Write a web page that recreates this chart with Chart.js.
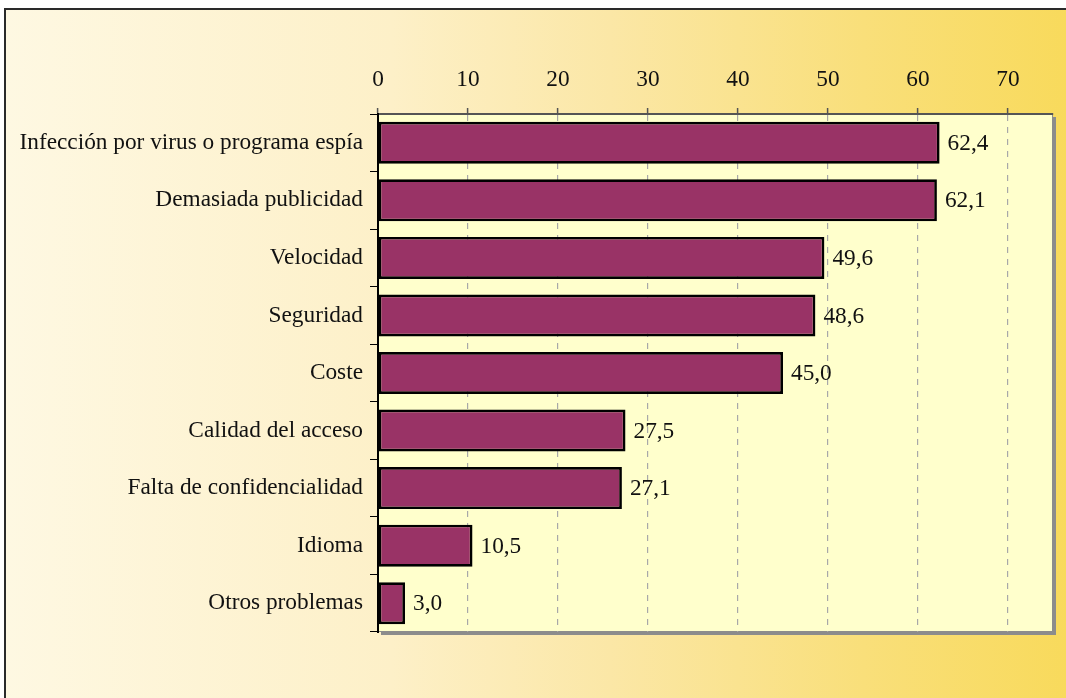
<!DOCTYPE html>
<html>
<head>
<meta charset="utf-8">
<script src="https://cdn.jsdelivr.net/npm/chart.js@4.4.1/dist/chart.umd.min.js"></script>
<style>
  html, body { margin: 0; padding: 0; background: #ffffff; overflow: hidden; }
  #frame {
    position: absolute; left: 4px; top: 8px; width: 1100px; height: 720px;
    border: 2px solid #2a2a2a;
    background: linear-gradient(to right, #FEF8E2 0%, #FDF0C8 35%, #FBE7A6 55%, #F9DF7A 78%, #F8D956 100%);
  }
  #wrap { position: absolute; left: 0; top: 0; width: 1066px; height: 698px; }
</style>
</head>
<body>
<div id="frame"></div>
<div id="wrap"><canvas id="c" width="1066" height="698"></canvas></div>
<script>
const categories = [
  "Infección por virus o programa espía",
  "Demasiada publicidad",
  "Velocidad",
  "Seguridad",
  "Coste",
  "Calidad del acceso",
  "Falta de confidencialidad",
  "Idioma",
  "Otros problemas"
];
const values = [62.4, 62.1, 49.6, 48.6, 45.0, 27.5, 27.1, 10.5, 3.0];
const xTicks = [0, 10, 20, 30, 40, 50, 60, 70];
const xMin = 0, xMax = 75;

const FONT = "'Liberation Serif', 'Times New Roman', serif";
const FSIZE = 23.3;

const plotBg = {
  id: 'plotBg',
  beforeDraw(chart) {
    const {ctx, chartArea: a} = chart;
    ctx.save();
    ctx.fillStyle = '#8c8c8c';
    ctx.fillRect(a.left + 3, a.top + 3, a.right - a.left, a.bottom - a.top);
    ctx.fillStyle = '#FFFFCC';
    ctx.fillRect(a.left, a.top, a.right - a.left, a.bottom - a.top);
    ctx.strokeStyle = '#8c8c8c';
    ctx.lineWidth = 1;
    ctx.strokeRect(a.left + 0.5, a.top + 0.5, a.right - a.left - 1, a.bottom - a.top - 1);
    ctx.restore();
  }
};

const valueLabels = {
  id: 'valueLabels',
  afterDatasetsDraw(chart) {
    const {ctx} = chart;
    const meta = chart.getDatasetMeta(0);
    ctx.save();
    ctx.font = FSIZE + 'px ' + FONT;
    ctx.fillStyle = '#111111';
    ctx.textAlign = 'left';
    ctx.textBaseline = 'middle';
    meta.data.forEach((bar, i) => {
      const txt = values[i].toFixed(1).replace('.', ',');
      ctx.fillText(txt, bar.x + 8, bar.y + 1);
    });
    ctx.restore();
  }
};

new Chart(document.getElementById('c'), {
  type: 'bar',
  data: {
    labels: categories,
    datasets: [{
      data: values,
      backgroundColor: '#993366',
      borderColor: '#000000',
      borderWidth: 2.7,
      borderSkipped: false,
      barPercentage: 0.73,
      categoryPercentage: 1.0
    }]
  },
  options: {
    indexAxis: 'y',
    responsive: false,
    animation: false,
    events: [],
    layout: { padding: { left: 0, right: 13, top: 0, bottom: 66 } },
    plugins: { legend: { display: false }, tooltip: { enabled: false } },
    scales: {
      x: {
        position: 'top',
        min: xMin, max: xMax,
        afterBuildTicks(scale) { scale.ticks = xTicks.map(v => ({ value: v })); },
        afterFit(scale) { scale.height = 114; },
        ticks: {
          font: { family: FONT, size: FSIZE },
          color: '#111111',
          padding: 14,
          maxRotation: 0,
          callback: (v) => String(v)
        },
        grid: {
          color: (c) => c.tick && c.tick.value === 0 ? 'rgba(0,0,0,0)' : '#a8a8a8',
          lineWidth: 1.2,
          tickLength: 6,
          tickColor: '#555555',
          tickWidth: 1.5,
          tickBorderDash: [],
          drawTicks: true
        },
        border: { display: true, color: '#555555', width: 2, dash: [6, 6] }
      },
      y: {
        afterFit(scale) { scale.width = 378; },
        ticks: {
          font: { family: FONT, size: FSIZE },
          color: '#111111',
          padding: 7
        },
        grid: {
          drawOnChartArea: false,
          tickLength: 8,
          tickColor: '#000000',
          tickWidth: 1,
          offset: true
        },
        border: { display: true, color: '#000000', width: 2 }
      }
    }
  },
  plugins: [plotBg, valueLabels]
});
</script>
</body>
</html>
